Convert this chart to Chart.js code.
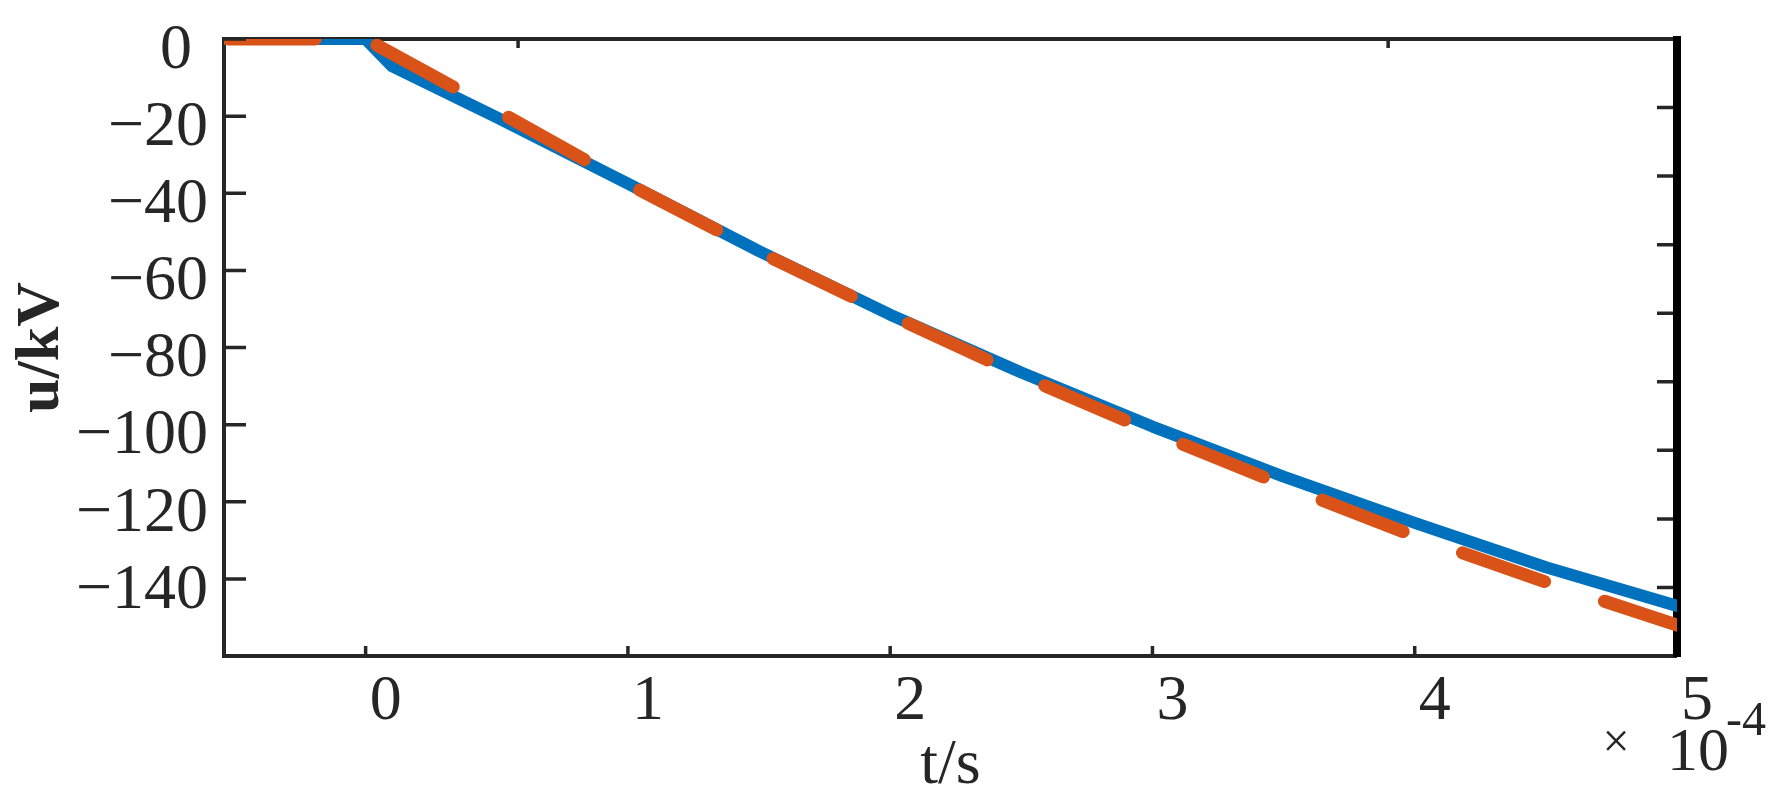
<!DOCTYPE html>
<html>
<head>
<meta charset="utf-8">
<script src="https://cdn.jsdelivr.net/npm/chart.js@4.4.1/dist/chart.umd.min.js"></script>
<style>
  html, body { margin: 0; padding: 0; background: #ffffff; }
  #wrap { width: 1781px; height: 806px; position: relative; }
</style>
</head>
<body>
<div id="wrap"><canvas id="chart"></canvas></div>
<script>
// ---- data (time in units of 1e-4 s, voltage in kV) ----
const tBlue   = [-0.54, 0, 0.1, 0.5, 1, 1.5, 2, 2.5, 3, 3.5, 4, 4.5, 5];
const uBlue   = [0, 0, -7, -20.3, -37.5, -55, -71.5, -86.5, -100.5, -113.5, -125.5, -137, -147];
const tOrange = [-0.54, 0, 0.5, 1, 1.5, 2, 2.5, 3, 3.5, 4, 4.5, 5];
const uOrange = [0, 0, -18.6, -37.6, -55.2, -71.6, -87.3, -101.9, -115.7, -128.9, -140.8, -152];

const xTickValues  = [0, 1, 2, 3, 4, 5];
const yTickValues  = [-140, -120, -100, -80, -60, -40, -20, 0];
const y2TickValues = [-180, -160, -140, -120, -100, -80, -60, -40, -20, 0];
const x2TickValues = [0, 1];

const xLabel = 't/s';
const yLabel = 'u/kV';
const timesSign = '\u00D7';
const expBase = '10';
const expPower = '-4';

// ---- styling ----
const FONT = "'Liberation Serif', 'Times New Roman', serif";
const AXIS = '#262626';

const toPoints = (ts, us) => ts.map((t, i) => ({ x: t, y: us[i] }));

const axesPlugin = {
  id: 'matlabAxes',
  beforeDatasetsDraw(chart) {
    const { ctx } = chart;
    const xs = chart.scales.x, ys = chart.scales.y;
    const L = xs.left, R = xs.right, T = ys.top, B = ys.bottom;
    ctx.save();
    ctx.strokeStyle = AXIS;
    ctx.lineWidth = 4;
    ctx.lineCap = 'butt';
    ctx.beginPath();
    ctx.moveTo(L, B + 2); ctx.lineTo(L, T - 2);
    ctx.moveTo(L - 2, T); ctx.lineTo(R, T);
    ctx.moveTo(L - 2, B); ctx.lineTo(R, B);
    ctx.stroke();
    ctx.strokeStyle = '#000000';
    ctx.lineWidth = 8;
    ctx.beginPath();
    ctx.moveTo(R, T - 3); ctx.lineTo(R, B + 1);
    ctx.stroke();
    ctx.restore();
  },
  afterDatasetsDraw(chart) {
    const { ctx } = chart;
    const xs = chart.scales.x, ys = chart.scales.y, x2 = chart.scales.x2, y2 = chart.scales.y2;
    const L = xs.left, R = xs.right, T = ys.top, B = ys.bottom;
    ctx.save();
    ctx.strokeStyle = AXIS;
    ctx.lineWidth = 3.5;
    ctx.lineCap = 'butt';
    ctx.beginPath();
    ys.ticks.forEach(tk => {
      const py = ys.getPixelForValue(tk.value);
      ctx.moveTo(L, py); ctx.lineTo(L + 22, py);
    });
    y2.ticks.forEach(tk => {
      const py = y2.getPixelForValue(tk.value);
      if (py > T + 2 && py < B - 2) { ctx.moveTo(R - 4, py); ctx.lineTo(R - 20, py); }
    });
    xs.ticks.forEach(tk => {
      const px = xs.getPixelForValue(tk.value);
      if (px < R - 4) { ctx.moveTo(px, B); ctx.lineTo(px, B - 10); }
    });
    x2.ticks.forEach(tk => {
      const px = x2.getPixelForValue(tk.value);
      ctx.moveTo(px, T); ctx.lineTo(px, T + 9);
    });
    ctx.stroke();

    // exponent annotation
    ctx.fillStyle = AXIS;
    ctx.textBaseline = 'middle';
    ctx.textAlign = 'center';
    ctx.font = `48px ${FONT}`;
    ctx.fillText(timesSign, R - 61, B + 88);
    ctx.textBaseline = 'alphabetic';
    ctx.textAlign = 'left';
    ctx.font = `62px ${FONT}`;
    ctx.fillText(expBase, R - 10, B + 114);
    ctx.font = `48px ${FONT}`;
    ctx.fillText(expPower, R + 49, B + 79);
    ctx.restore();
  }
};

const setTicks = vals => s => { s.ticks = vals.map(v => ({ value: v })); };
const zeroPad = s => { s.paddingTop = 0; s.paddingBottom = 0; s.paddingLeft = 0; s.paddingRight = 0; };

new Chart(document.getElementById('chart'), {
  type: 'line',
  data: {
    datasets: [
      {
        label: 'orange',
        data: toPoints(tOrange, uOrange),
        borderColor: '#D95319',
        borderWidth: 13,
        borderDash: [87, 63],
        borderDashOffset: -4.5,
        borderCapStyle: 'round',
        borderJoinStyle: 'round',
        pointRadius: 0,
        tension: 0,
        order: 0
      },
      {
        label: 'blue',
        data: toPoints(tBlue, uBlue),
        borderColor: '#0072BD',
        borderWidth: 12,
        borderCapStyle: 'round',
        borderJoinStyle: 'round',
        pointRadius: 0,
        tension: 0,
        order: 1
      }
    ]
  },
  options: {
    responsive: true,
    maintainAspectRatio: false,
    devicePixelRatio: 1,
    animation: false,
    layout: { padding: { left: 0, right: 104, top: 39, bottom: 0 } },
    plugins: { legend: { display: false }, tooltip: { enabled: false } },
    scales: {
      x: {
        type: 'linear', position: 'bottom', min: -0.54, max: 5,
        afterBuildTicks: setTicks(xTickValues),
        afterFit: s => { s.height = 150; zeroPad(s); },
        grid: { display: false }, border: { display: false },
        ticks: {
          font: { family: FONT, size: 64 }, color: AXIS, padding: 0, labelOffset: 20,
          maxRotation: 0, autoSkip: false,
          callback: v => String(v)
        },
        title: { display: true, text: xLabel, color: AXIS, font: { family: FONT, size: 64 }, padding: { top: 0, bottom: 1 } }
      },
      y: {
        type: 'linear', position: 'left', min: -160, max: 0,
        afterBuildTicks: setTicks(yTickValues),
        afterFit: s => { s.width = 224; zeroPad(s); },
        grid: { display: false }, border: { display: false },
        ticks: {
          font: { family: FONT, size: 64 }, color: AXIS, padding: 8, labelOffset: 12,
          autoSkip: false,
          callback: v => (v < 0 ? '\u2212' + Math.abs(v) : String(v) + ' ')
        },
        title: { display: true, text: yLabel, color: AXIS, font: { family: FONT, size: 62, weight: 'bold' }, padding: { top: 5, bottom: 0 } }
      },
      x2: {
        type: 'linear', position: 'top', min: -0.338, max: 1.332,
        afterBuildTicks: setTicks(x2TickValues),
        afterFit: s => { s.height = 0; zeroPad(s); },
        grid: { display: false }, border: { display: false }, ticks: { display: false }
      },
      y2: {
        type: 'linear', position: 'right', min: -180, max: 0,
        afterBuildTicks: setTicks(y2TickValues),
        afterFit: s => { s.width = 0; zeroPad(s); },
        grid: { display: false }, border: { display: false }, ticks: { display: false }
      }
    }
  },
  plugins: [axesPlugin]
});
</script>
</body>
</html>
